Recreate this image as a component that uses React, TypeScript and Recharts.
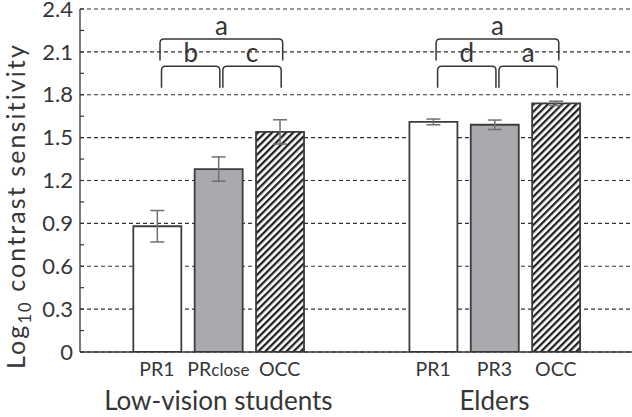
import React from 'react';
import { BarChart, Bar, XAxis, YAxis, CartesianGrid, ErrorBar, ReferenceLine, Cell } from 'recharts';

const groupNames = ['Low-vision students', 'Elders'];
const groupConditions = [
  ['PR1', 'PRclose', 'OCC'],
  ['PR1', 'PR3', 'OCC'],
];
const groupMeans = [
  [0.88, 1.28, 1.54],
  [1.61, 1.59, 1.74],
];
const groupErrors = [
  [0.11, 0.085, 0.085],
  [0.02, 0.033, 0.015],
];
const yMajor = [0, 0.3, 0.6, 0.9, 1.2, 1.5, 1.8, 2.1, 2.4];
const yMinor = [0, 0.15, 0.3, 0.45, 0.6, 0.75, 0.9, 1.05, 1.2, 1.35, 1.5, 1.65, 1.8, 1.95, 2.1, 2.25, 2.4];

// significance brackets: group, first bar, last bar, level (0 = low, 1 = high), letter
const brackets = [
  { group: 0, from: 0, to: 2, level: 1, letter: 'a' },
  { group: 0, from: 0, to: 1, level: 0, letter: 'b' },
  { group: 0, from: 1, to: 2, level: 0, letter: 'c' },
  { group: 1, from: 0, to: 2, level: 1, letter: 'a' },
  { group: 1, from: 0, to: 1, level: 0, letter: 'd' },
  { group: 1, from: 1, to: 2, level: 0, letter: 'a' },
];
const bracketLevels = [2.0, 2.19];

const GROUP_STRIDE = 4.5;
const FONT = 'Lato, "Open Sans", sans-serif';
const INK = '#363636';
const FILLS = ['#ffffff', '#a8aaad', 'url(#hatch)'];

const data = groupConditions.flatMap((conds, g) =>
  conds.map((label, i) => ({
    pos: g * GROUP_STRIDE + i,
    label,
    group: g,
    kind: i,
    mean: groupMeans[g][i],
    err: groupErrors[g][i],
  }))
);
const positions = data.map((d) => d.pos);

const XTick = ({ x, y, payload }: any) => {
  const d = data.find((e) => Math.abs(e.pos - payload.value) < 1e-6);
  if (!d) return null;
  return (
    <g>
      <text x={x} y={y + 24} textAnchor="middle" fontFamily={FONT} fontSize={19.5} fill={INK}>
        {d.label === 'PRclose' ? (
          <>
            <tspan>PR</tspan>
            <tspan fontSize={17}>close</tspan>
          </>
        ) : (
          d.label
        )}
      </text>
      {d.kind === 1 && (
        <text x={x} y={y + 58} textAnchor="middle" fontFamily={FONT} fontSize={26} fill={INK}>
          {groupNames[d.group]}
        </text>
      )}
    </g>
  );
};

const YTick = ({ x, y, payload }: any) => {
  const v = payload.value;
  const major = Math.abs(v / 0.3 - Math.round(v / 0.3)) < 1e-6;
  return (
    <g>
      <line x1={x} x2={x + 4} y1={y} y2={y} stroke={INK} strokeWidth={1.2} />
      {major && (
        <text x={x - 7} y={y} dy="0.35em" textAnchor="end" fontFamily={FONT} fontSize={22} fill={INK}>
          {v === 0 ? '0' : v.toFixed(1)}
        </text>
      )}
    </g>
  );
};

const bracketShape = (letter: string, level: number) => (p: any) => {
  const shift = 3;
  const gap = level === 0 ? 1.5 : 0;
  const x1 = p.x1 + shift + gap;
  const x2 = p.x2 + shift - gap;
  const y = p.y1;
  const leg = 21.5;
  const r = 4;
  const d = `M${x1},${y + leg} L${x1},${y + r} Q${x1},${y} ${x1 + r},${y} L${x2 - r},${y} Q${x2},${y} ${x2},${y + r} L${x2},${y + leg}`;
  return (
    <g>
      <path d={d} fill="none" stroke={INK} strokeWidth={1.5} />
      <text x={(x1 + x2) / 2} y={y - 4} textAnchor="middle" fontFamily={FONT} fontSize={26} fill={INK}>
        {letter}
      </text>
    </g>
  );
};

export default function App() {
  return (
    <div style={{ position: 'absolute', left: 0, top: 0, width: 632, height: 417, background: '#fff' }}>
      <BarChart width={632} height={417} data={data} margin={{ top: 9, right: 0, left: 0, bottom: 0 }}>
        <defs>
          <pattern id="hatch" patternUnits="userSpaceOnUse" width={5} height={5} patternTransform="rotate(45)">
            <rect width={5} height={5} fill="#ffffff" />
            <rect width={2.3} height={5} fill="#222222" />
          </pattern>
        </defs>
        <CartesianGrid vertical={false} stroke="#333" strokeWidth={1.1} strokeDasharray="4 3" horizontalValues={yMajor} />
        <XAxis
          type="number"
          dataKey="pos"
          domain={[-1.255, 7.742]}
          allowDataOverflow
          ticks={positions}
          interval={0}
          tick={<XTick />}
          tickLine={false}
          tickSize={0}
          tickMargin={0}
          height={65}
          axisLine={{ stroke: INK, strokeWidth: 1.3 }}
        />
        <YAxis
          type="number"
          domain={[0, 2.4]}
          allowDataOverflow
          ticks={yMinor}
          interval={0}
          width={80}
          tick={<YTick />}
          tickLine={false}
          tickSize={0}
          tickMargin={0}
          axisLine={{ stroke: INK, strokeWidth: 1.3 }}
        />
        <Bar dataKey="mean" barSize={48} stroke="#3d3d3d" strokeWidth={1.8} isAnimationActive={false}>
          {data.map((d, i) => (
            <Cell key={`c-${i}`} fill={FILLS[d.kind]} />
          ))}
          <ErrorBar dataKey="err" width={7} stroke="#707070" strokeWidth={1.5} isAnimationActive={false} />
        </Bar>
        {brackets.map((b, i) => (
          <ReferenceLine
            key={`br-${i}`}
            ifOverflow="visible"
            segment={[
              { x: b.group * GROUP_STRIDE + b.from, y: bracketLevels[b.level] },
              { x: b.group * GROUP_STRIDE + b.to, y: bracketLevels[b.level] },
            ]}
            shape={bracketShape(b.letter, b.level)}
          />
        ))}
      </BarChart>
      <svg width={40} height={417} style={{ position: 'absolute', left: 0, top: 0, pointerEvents: 'none' }}>
        <text
          transform="translate(25,206) rotate(-90)"
          textAnchor="middle"
          fontFamily={FONT}
          fontSize={25}
          letterSpacing={2.1}
          fill={INK}
        >
          Log
          <tspan fontSize={16.5} dy={6}>10</tspan>
          <tspan dy={-6}> contrast sensitivity</tspan>
        </text>
      </svg>
    </div>
  );
}
